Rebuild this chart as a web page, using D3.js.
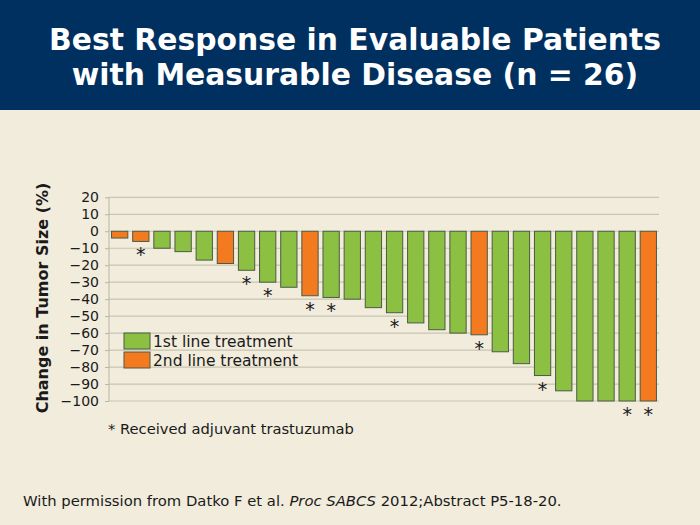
<!DOCTYPE html>
<html>
<head>
<meta charset="utf-8">
<script src="https://cdn.jsdelivr.net/npm/d3@7"></script>
<style>
  body { margin: 0; background: #f1ecdc; }
  svg text { font-family: "DejaVu Sans", Verdana, sans-serif; }
</style>
</head>
<body>
<script>
// best change in tumor size per patient, sorted
var patients = d3.range(1, 27)
var changes = [-4, -6, -10, -12, -17, -19, -23, -30, -33, -38, -39, -40, -45, -48,
               -54, -58, -60, -61, -71, -78, -85, -94, -100, -100, -100, -100]
var lines = [2, 2, 1, 1, 1, 2, 1, 1, 1, 2, 1, 1, 1, 1, 1, 1, 1, 2, 1, 1, 1, 1, 1, 1, 1, 2]
var adjuvant = [0, 1, 0, 0, 0, 0, 1, 1, 0, 1, 1, 0, 0, 1, 0, 0, 0, 1, 0, 0, 1, 0, 0, 0, 1, 1]
var yTicks = [20, 10, 0, -10, -20, -30, -40, -50, -60, -70, -80, -90, -100]
var legendLabels = ['1st line treatment', '2nd line treatment']

var colors = { 1: '#8bc043', 2: '#f47a20' }

var svg = d3.select(document.body).append('svg')
  .attr('width', 700)
  .attr('height', 525)

svg.append('rect').attr('width', 700).attr('height', 525).attr('fill', '#f1ecdc')
svg.append('rect').attr('width', 700).attr('height', 110).attr('fill', '#00305f')

var title = svg.append('text')
  .attr('text-anchor', 'middle')
  .attr('fill', 'white').attr('font-weight', 'bold').attr('font-size', 29.8)
title.append('tspan').attr('x', 355).attr('y', 50).text('Best Response in Evaluable Patients')
title.append('tspan').attr('x', 355).attr('y', 85).text('with Measurable Disease (n = 26)')

var x = d3.scaleBand().domain(patients).range([109, 659]).paddingInner(0.23).paddingOuter(0.12)
var y = d3.scaleLinear().domain([-100, 20]).range([401, 197.3])

// gridlines
svg.append('g').selectAll('line').data(yTicks).enter().append('line')
  .attr('x1', 109).attr('x2', 659)
  .attr('y1', function(d) { return y(d) })
  .attr('y2', function(d) { return y(d) })
  .attr('stroke', '#c9c5b2').attr('stroke-width', 1.2)

var axis = svg.append('g')
  .attr('transform', 'translate(109,0)')
  .call(d3.axisLeft(y).tickValues(yTicks).tickSize(4).tickPadding(6))
axis.select('.domain').attr('stroke', '#b9b6a6').attr('d', 'M0,' + y(20) + 'V' + y(-100))
axis.selectAll('.tick line').attr('stroke', '#b9b6a6')
axis.selectAll('.tick text')
  .attr('fill', '#1a1a1a').attr('font-size', 14)
  .attr('font-family', '"DejaVu Sans", Verdana, sans-serif')

svg.append('text')
  .attr('transform', 'translate(48,298) rotate(-90)')
  .attr('text-anchor', 'middle')
  .attr('font-weight', 'bold').attr('font-size', 16).attr('fill', '#1a1a1a')
  .text('Change in Tumor Size (%)')

svg.append('g').selectAll('rect').data(changes).enter().append('rect')
  .attr('x', function(d, i) { return x(patients[i]) })
  .attr('y', y(0))
  .attr('width', x.bandwidth())
  .attr('height', function(d) { return y(d) - y(0) })
  .attr('fill', function(d, i) { return colors[lines[i]] })
  .attr('stroke', '#4d5a45').attr('stroke-width', 1)

// asterisks under patients who got adjuvant trastuzumab
svg.append('g').selectAll('text').data(patients.filter(function(p, i) { return adjuvant[i] }))
  .enter().append('text')
  .attr('x', function(p) { return x(p) + x.bandwidth() / 2 })
  .attr('y', function(p) { return y(changes[p - 1]) + 20 })
  .attr('text-anchor', 'middle').attr('font-size', 19).attr('fill', '#1a1a1a')
  .text('*')

var legend = svg.append('g').selectAll('g').data(legendLabels).enter().append('g')
  .attr('transform', function(d, i) { return 'translate(124,' + (333 + i * 19) + ')' })
legend.append('rect').attr('width', 26).attr('height', 16)
  .attr('fill', function(d, i) { return colors[i + 1] })
  .attr('stroke', '#4d5a45')
legend.append('text').attr('x', 29).attr('y', 14).attr('font-size', 15.5).attr('fill', '#1a1a1a')
  .text(function(d) { return d })

svg.append('text').attr('x', 108).attr('y', 434).attr('font-size', 14.7).attr('fill', '#1a1a1a')
  .text('* Received adjuvant trastuzumab')

var foot = svg.append('text').attr('x', 23).attr('y', 506).attr('font-size', 14.8).attr('fill', '#1a1a1a')
foot.append('tspan').text('With permission from Datko F et al. ')
foot.append('tspan').attr('font-style', 'italic').text('Proc SABCS')
foot.append('tspan').text(' 2012;Abstract P5-18-20.')
</script>
</body>
</html>
